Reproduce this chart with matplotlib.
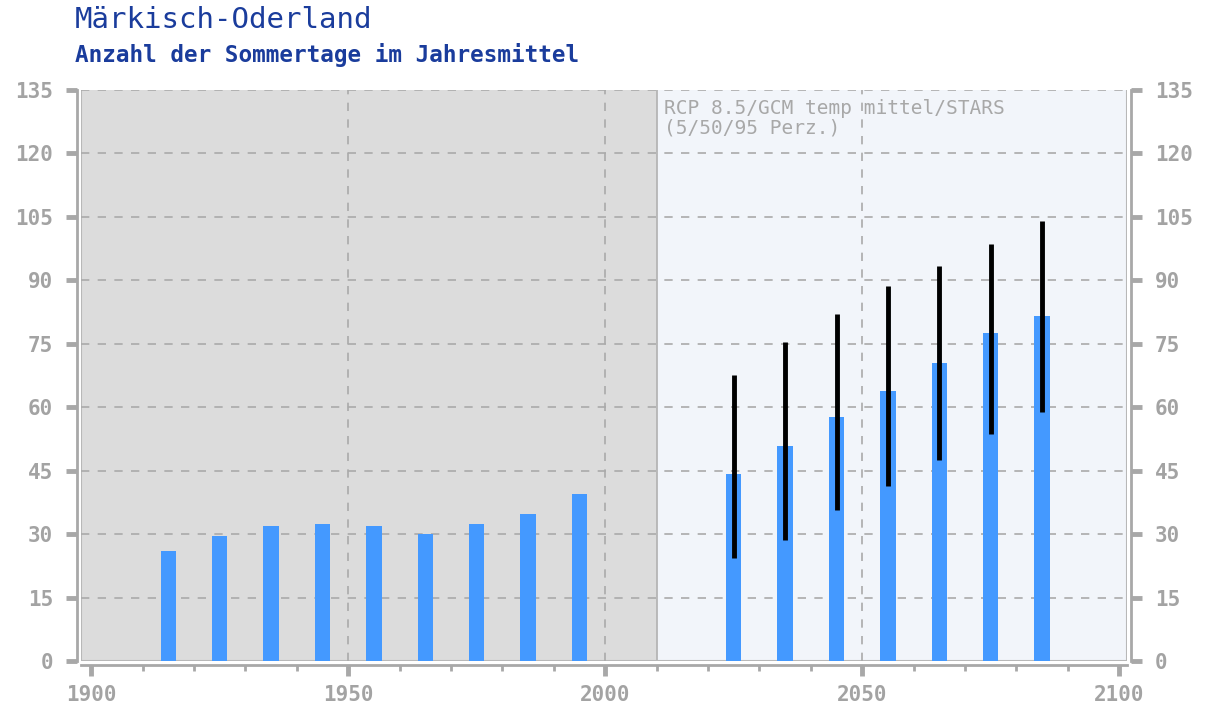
import numpy as np
import matplotlib
matplotlib.use('Agg')
import matplotlib.pyplot as plt

# historical bars (decadal means)
hist_years = [1915, 1925, 1935, 1945, 1955, 1965, 1975, 1985, 1995]
hist_vals = [26.0, 29.5, 31.9, 32.4, 31.9, 30.0, 32.4, 34.8, 39.5]

# projection bars, median with 5/95 percentiles
proj_years = [2025, 2035, 2045, 2055, 2065, 2075, 2085]
proj_med = [44.2, 50.8, 57.7, 63.8, 70.4, 77.5, 81.6]
proj_lo = [24.3, 28.6, 35.7, 41.4, 47.5, 53.7, 58.9]
proj_hi = [67.6, 75.4, 82.0, 88.7, 93.4, 98.6, 104.0]

mono = 'DejaVu Sans Mono'
plt.rcParams['font.family'] = mono
plt.rcParams['font.weight'] = 'bold'
grey = '#a3a3a3'
tickc = '#a8a8a8'
blue = '#4499ff'

fig = plt.figure(figsize=(12.05, 7.09), dpi=100)
ax = fig.add_axes([0.0672, 0.0677, 0.868, 0.8053])

ax.set_xlim(1898, 2101.5)
ax.set_ylim(0, 135)

ax.axvspan(1898, 2010, color='#dcdcdc', zorder=0)
ax.axvspan(2010, 2101.5, color='#f2f5fa', zorder=0)
ax.axvline(2010, color='#b0b0b0', lw=1.2, zorder=1)
# inner frame lines
ax.axvline(1898, color='#b8b8b8', lw=1.5, zorder=1)
ax.axvline(2101.5, color='#b8b8b8', lw=1.5, zorder=1)
ax.axhline(0, color='#b8b8b8', lw=1.5, zorder=1)

ax.bar(hist_years, hist_vals, width=3, color=blue, zorder=3)
ax.bar(proj_years, proj_med, width=3, color=blue, zorder=3)
ax.vlines(proj_years, proj_lo, proj_hi, color='black', lw=3.5, zorder=4)

yt = np.arange(0, 136, 15)
ax.set_yticks(yt)
for y in yt[1:]:
    ax.axhline(y, color='#aaaaaa', lw=1.2, ls=(0, (5, 5)), zorder=2)
for x in [1950, 2000, 2050]:
    ax.axvline(x, color='#aaaaaa', lw=1.2, ls=(0, (5, 5)), zorder=2)

ax.set_xticks([1900, 1950, 2000, 2050, 2100])
ax.set_xticks(np.arange(1910, 2100, 10), minor=True)

ax.tick_params(axis='y', which='both', left=True, right=True, labelleft=True, labelright=True,
               direction='out', length=8, width=3.5, color=tickc, pad=9,
               labelsize=15, labelcolor=grey)
ax.tick_params(axis='x', which='major', direction='out', length=8, width=3.5, color=tickc,
               pad=6, labelsize=15, labelcolor=grey)
ax.tick_params(axis='x', which='minor', direction='out', length=4, width=2, color=tickc)

for s in ['left', 'bottom', 'right']:
    ax.spines[s].set_color(tickc)
    ax.spines[s].set_linewidth(2)
    ax.spines[s].set_position(('outward', 3))
ax.spines['top'].set_visible(False)

ax.text(2011.5, 133, 'RCP 8.5/GCM temp mittel/STARS\n(5/50/95 Perz.)',
        fontsize=14, weight='normal', color='#a8a8a8', va='top', ha='left', zorder=5,
        linespacing=1.05)

fig.text(0.062, 0.972, 'Märkisch-Oderland', fontsize=21, weight='normal', color='#1a3c9c',
         va='center', ha='left')
fig.text(0.062, 0.922, 'Anzahl der Sommertage im Jahresmittel', fontsize=16.3,
         weight='bold', color='#1a3c9c', va='center', ha='left')

fig.savefig('out.png', dpi=100)
